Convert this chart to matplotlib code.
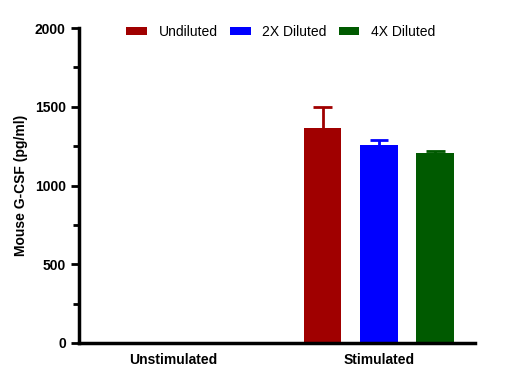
import numpy as np
import matplotlib
matplotlib.use("Agg")
import matplotlib.pyplot as plt
from matplotlib.ticker import MultipleLocator

plt.rcParams['font.family'] = ['Liberation Sans', 'DejaVu Sans']

groups = ['Unstimulated', 'Stimulated']
series = ['Undiluted', '2X Diluted', '4X Diluted']
colors = ['#a00000', '#0000ff', '#005a00']
means = [[0, 1365], [0, 1257], [0, 1206]]
errs = [[0, 133], [0, 32], [0, 15]]

fig = plt.figure(figsize=(5.19, 3.8), dpi=100)
ax = fig.add_axes([79 / 519, 1 - 343 / 380, 396 / 519, 315 / 380])

x = np.arange(len(groups))
width = 0.184
step = 0.274
cap = 0.046
for i, (name, col) in enumerate(zip(series, colors)):
    pos = x + (i - 1) * step
    m = np.array(means[i])
    e = np.array(errs[i])
    ax.bar(pos, m, width, color=col, label=name, zorder=2)
    # upper error bar only (stimulated group)
    ax.vlines(pos[1:], m[1:], m[1:] + e[1:], color=col, lw=2, zorder=3)
    ax.hlines(m[1:] + e[1:], pos[1:] - cap, pos[1:] + cap, color=col, lw=2, zorder=3)

ax.set_xlim(-0.456, 1.466)
ax.set_ylim(0, 2000)
ax.yaxis.set_major_locator(MultipleLocator(500))
ax.yaxis.set_minor_locator(MultipleLocator(250))
ax.set_xticks(x)
ax.set_xticklabels(groups, fontweight='bold', fontsize=10)
ax.tick_params(axis='x', length=0, pad=7)
ax.tick_params(axis='y', which='major', length=6, width=2, labelsize=10)
ax.tick_params(axis='y', which='minor', length=4, width=2)
for lab in ax.get_yticklabels():
    lab.set_fontweight('bold')
ax.set_ylabel('Mouse G-CSF (pg/ml)', fontweight='bold', fontsize=10, labelpad=5)

for s in ['top', 'right']:
    ax.spines[s].set_visible(False)
for s in ['left', 'bottom']:
    ax.spines[s].set_linewidth(2.5)

ax.legend(loc='upper center', bbox_to_anchor=(0.51, 1.05), ncol=3, frameon=False,
          fontsize=10, handlelength=1.5, handleheight=0.5, columnspacing=0.85,
          handletextpad=0.85)

fig.savefig('out.png', dpi=100)
